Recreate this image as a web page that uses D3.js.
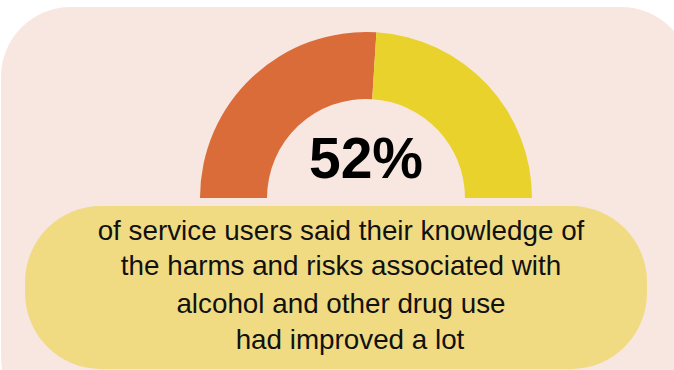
<!DOCTYPE html>
<html>
<head>
<meta charset="utf-8">
<script src="https://cdn.jsdelivr.net/npm/d3@7"></script>
<style>
  html, body { margin: 0; padding: 0; background: #ffffff; }
  svg { display: block; }
  .caption { font-family: "Liberation Sans", Arial, Helvetica, sans-serif; font-size: 27.8px; fill: #111111; }
  .big { font-family: "Liberation Sans", Arial, Helvetica, sans-serif; font-size: 57px; font-weight: bold; fill: #000000; }
</style>
</head>
<body>
<script>
var w = 674, h = 370;

// gauge data
var segments = ["improved a lot", "other"];
var values = [52, 48];
var colors = ["#d96c39", "#e8d22b"];
var headline = "52%";
var captionLines = [
  "of service users said their knowledge of",
  "the harms and risks associated with",
  "alcohol and other drug use",
  "had improved a lot"
];

var svg = d3.select("body").append("svg")
  .attr("width", w)
  .attr("height", h);

// card background
svg.append("rect")
  .attr("x", 1)
  .attr("y", 7)
  .attr("width", 690)
  .attr("height", 420)
  .attr("rx", 70)
  .attr("fill", "#f8e6e0");

var cx = 366, cy = 198;

var pie = d3.pie()
  .sort(null)
  .startAngle(-Math.PI / 2)
  .endAngle(Math.PI / 2);

var arc = d3.arc()
  .innerRadius(99)
  .outerRadius(166);

var gauge = svg.append("g")
  .attr("transform", "translate(" + cx + "," + cy + ")");

gauge.selectAll("path")
  .data(pie(values))
  .enter().append("path")
  .attr("d", arc)
  .attr("fill", function (d, i) { return colors[i]; });

gauge.append("text")
  .attr("class", "big")
  .attr("x", 0)
  .attr("y", -20)
  .attr("text-anchor", "middle")
  .text(headline);

// caption pill
svg.append("rect")
  .attr("x", 25)
  .attr("y", 206)
  .attr("width", 622)
  .attr("height", 163)
  .attr("rx", 76)
  .attr("fill", "#f0db83");

var lineY = [240, 275, 313, 349];
var lineX = [341, 341, 341, 350];

svg.selectAll("text.caption")
  .data(captionLines)
  .enter().append("text")
  .attr("class", "caption")
  .attr("x", function (d, i) { return lineX[i]; })
  .attr("y", function (d, i) { return lineY[i]; })
  .attr("text-anchor", "middle")
  .text(function (d) { return d; });
</script>
</body>
</html>
